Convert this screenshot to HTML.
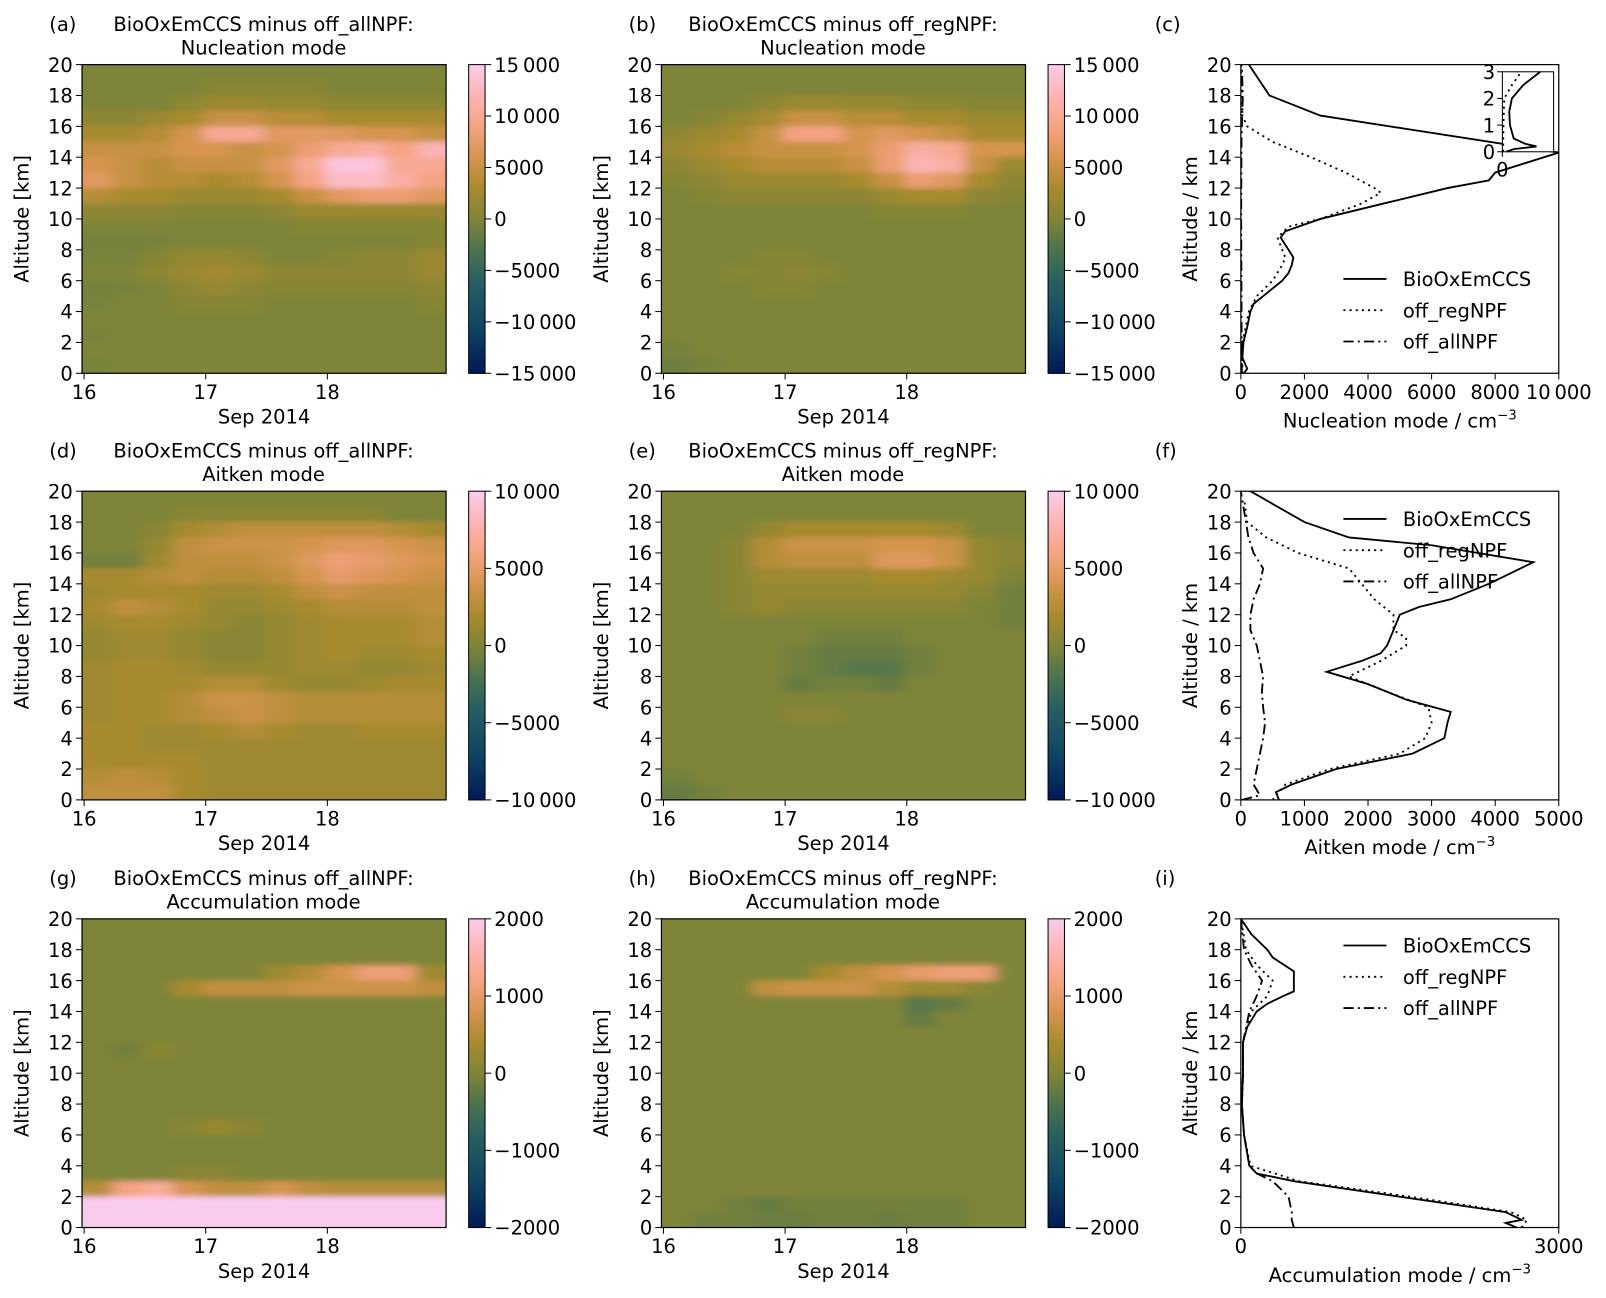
<!DOCTYPE html>
<html><head><meta charset="utf-8">
<style>
html,body{margin:0;padding:0;background:#fff;}
svg{display:block;font-family:"DejaVu Sans","Liberation Sans",sans-serif;}
</style></head>
<body>
<svg id="fig" width="1606" height="1298" viewBox="0 0 1606 1298" xmlns="http://www.w3.org/2000/svg">
<defs>
<filter id="blur" x="0" y="0" width="1" height="1"><feGaussianBlur stdDeviation="7 2.5" edgeMode="duplicate"/></filter>
</defs>
<g id="root" transform="scale(1.0255)"></g>
</svg>
<script>
// ---------- DATA ----------
// heatmap rows: top (19-20 km) to bottom (0-1 km); 12 time columns of 0.25 day from 16.0
const nucA=[[0,0,0,0,0,0,0,0,0,0,0,0],[0,0,0,0,0.5,0.5,0.5,0.5,0,0,0,0],[0,0,0,1,2,2,1.5,1.5,1,1,1,1],[1,1,2,3,5,5,4,4,3,3,3,3],[3,3,4,6,10,10,7,7,7,6,6,5],[5,5,5,6,6,5,6,8,10,11,9,12],[6,5,4,5,5,5,7,10,14,14,10,10],[7,5,4,4,3,4,6,9,13,13,11,9],[4,3,3,2,2,2,3,5,7,8,8,7],[1,1,1,0.5,0.5,0.5,1,2,2,2,2,2],[0,0,0,0,0,0,0,0.5,0.5,0.5,0.5,0.5],[-0.5,-0.5,-0.3,0,0,0,0,0,0,0,0,0.5],[-0.3,-0.3,0.5,1.5,1.5,1,0,0,0.5,1,1,2],[0,0,1,2,2.5,2,1,1,1,1,1,2],[-0.5,-0.3,0,1,1.5,1,0.5,0.5,0.5,0.5,0.5,1],[-0.3,0,0,0.5,0.5,0.5,0,0,0,0,0,0.5],[0,0,0,0,0,0,0,0,0,0,0,0],[-0.3,0,0,0,0,0,0,0,0,0,0,0],[0,0,0,0,0,0,0,0,0,0,0,0],[-0.3,0,0,0,0,0,0,0,0,0,0,0]];
const nucB=[[0,0,0,0,0,0,0,0,0,0,0,0],[0,0,0,0,0,0,0,0,0,0,0,0],[0,0,0,1,2,2,1.5,1.5,1,1,0.5,0.5],[0,0.5,1.5,3,5,5,4,4,3,3,2,2],[1,2,3,5,9,9,6,7,6,5,3,3],[2,3,4,5,5,5,6,8,11,10,6,6],[1,2,3,4,4,4,5,8,12,11,5,2],[0.5,1,2,2,2,2,3,5,8,7,3,1],[0,0.5,1,1,1,1,1,2,3,3,1,0.5],[0,0,0,0,0,0,0,0.5,0.5,0.5,0,0],[0,0,0,0,0,0,0,0,0,0,0,0],[0,0,0,0,0,0,0,0,0,0,0,0],[0,0,0,0.5,0.5,0,0,0,0,0,0,0],[0,0,0.5,0.5,1,0.5,0,0,0,0,0,0],[0,0,0,0.5,0.5,0,0,0,0,0,0,0],[0,0,0,0,0,0,0,0,0,0,0,0],[0,0,0,0,0,0,0,0,0,0,0,0],[0,0,0,0,0,0,0,0,0,0,0,0],[-0.5,0,0,0,0,0,0,0,0,0,0,0],[-1,-0.5,0,0,0,0,0,0,0,0,0,0]];
const aitA=[[0,0,0,0,0,0,0,0,0,0,0,0],[0,0,0,0.5,0.5,0.5,0.5,0.5,0.5,0.5,0,0],[0,0,0.5,2,2.5,3,3,3,3,3,2.5,2],[0,0,1,3,3.5,3.5,3.5,4,4.5,4.5,4,3.5],[-0.5,-0.5,1.5,3,3,3,3.5,4.5,5.5,5,4.5,4],[2,2,2.5,3,2.5,2.5,3,4,5,4.5,4,3.5],[1.5,2,2,2,1.5,1.5,2,3,3.5,3,3,3],[2,3,2.5,2,1,1,1.5,2,2.5,2.5,2.5,3],[1.5,2,2,1.5,1,0.5,1,1.5,2,2,2,2.5],[1,1.5,1.5,1,0.5,0.5,1,1.5,2,2,2,2.5],[1,1.5,1.5,1,0.5,0.5,1,1.5,2,1.5,1.5,2],[1.5,2,2,1.5,1,1,1,1.5,1.5,1,1,1.5],[1.5,2,2,2,2.5,2.5,1.5,1,1,1.5,2,2],[1.5,2,2,2.5,3.5,3.5,3,2.5,2.5,2.5,2.5,2.5],[1.5,2,2,2.5,3,3.5,3,2.5,2.5,2.5,2.5,2.5],[2,2,1.5,1.5,2,2.5,2,1.5,1.5,2,2,2],[2,2,1.5,1.5,1.5,1.5,1.5,1.5,1.5,1.5,1.5,1.5],[2,2,2,2,1.5,1.5,1.5,1.5,1.5,1.5,1.5,1.5],[2.5,3,2.5,2,1.5,1.5,1.5,1.5,1.5,1.5,1.5,1.5],[3,3,3,2,1.5,1.5,1.5,1.5,1.5,1.5,1.5,1.5]];
const aitB=[[0,0,0,0,0,0,0,0,0,0,0,0],[0,0,0,0,0,0,0,0,0,0,0,0],[0,0,0,1,2,2,2,2,2,1.5,0,0],[0,0,0.5,2.5,3.5,3.5,3.5,4,4,3.5,1,0.5],[0,0,0.5,2.5,3,3,3,4.5,4.5,3.5,1,0.5],[0,0,0.5,1.5,1.5,1.5,1.5,2,2,1.5,1,0],[0,0,0.5,1,1,1,1,1,1,1,0.5,-0.5],[0,0,0.5,1,0.5,0.5,0.5,0.5,0.5,0.5,0,-0.5],[0,0,0,0,0,0,0,0,0,0,0,-0.5],[0,0,0,0,0,-0.5,-0.5,-0.5,0,0,0,0],[0,0,0,0,-0.5,-1,-1,-1,-0.5,0,0,0],[0,0,0,0,-0.5,-1,-1.5,-1.5,-0.5,0,0,0],[0,0,0,0,-1,-0.5,-0.5,-1,0,0,0,0],[0,0,0,0,0,0,0,0,0,0,0,0],[0,0,0,0,0.5,0.5,0,0,0,0,0,0],[0,0,0,0,0,0,0,0,0,0,0,0],[0,0,0,0,0,0,0,0,0,0,0,0],[0,0,0,0,0,0,0,0,0,0,0,0],[-0.5,0,0,0,0,0,0,0,0,0,0,0],[-1,-0.5,0,0,0,0,0,0,0,0,0,0]];
const accA=[[0,0,0,0,0,0,0,0,0,0,0,0],[0,0,0,0,0,0,0,0,0,0,0,0],[0,0,0,0,0,0,0,0,0,0,0,0],[0,0,0,0,0,0,0.3,0.5,0.8,1.1,1.1,0.3],[0,0,0,0.4,0.6,0.6,0.6,0.7,0.7,0.7,0.7,0.6],[0,0,0,0,0,0,0,0,0,0,0,0],[0,0,0,0,0,0,0,0,0,0,0,0],[0,0,0,0,0,0,0,0,0,0,0,0],[0,-0.1,0.1,0,0,0,0,0,0,0,0,0],[0,0,0,0,0,0,0,0,0,0,0,0],[0,0,0,0,0,0,0,0,0,0,0,0],[0,0,0,0,0,0,0,0,0,0,0,0],[0,0,0,0,0,0,0,0,0,0,0,0],[0,0,0,0.1,0.2,0.1,0,0,0,0,0,0],[0,0,0,0,0,0,0,0,0,0,0,0],[0,0,0,0,0,0,0,0,0,0,0,0],[0,0,0,0.1,0.1,0,0,0,0,0,0,0],[0.5,1.2,1.4,0.8,0.6,0.6,0.8,0.6,0.5,0.5,0.5,0.5],[2.5,3,3,2.2,2.5,2.8,2.6,2.4,2.4,2.5,2.6,2.6],[3,3,3,2.5,2.8,2.8,2.8,2.8,2.8,2.8,2.8,2.8]];
const accB=[[0,0,0,0,0,0,0,0,0,0,0,0],[0,0,0,0,0,0,0,0,0,0,0,0],[0,0,0,0,0,0,0,0,0,0,0,0],[0,0,0,0,0,0.4,0.6,0.8,1,1.1,1.1,0],[0,0,0,0.6,0.7,0.7,0.7,0.5,0.3,0.3,0.1,0],[0,0,0,0,0,0,0,0,-0.3,-0.2,0,0],[0,0,0,0,0,0,0,0,-0.2,0,0,0],[0,0,0,0,0,0,0,0,0,0,0,0],[0,0,0,0,0,0,0,0,0,0,0,0],[0,0,0,0,0,0,0,0,0,0,0,0],[0,0,0,0,0,0,0,0,0,0,0,0],[0,0,0,0,0,0,0,0,0,0,0,0],[0,0,0,0,0,0,0,0,0,0,0,0],[0,0,0,0,0,0,0,0,0,0,0,0],[0,0,0,0,0,0,0,0,0,0,0,0],[0,0,0,0,0,0,0,0,0,0,0,0],[0,0,0,0,0,0,0,0,0,0,0,0],[0,0,0,0,0,0,0,0,0,0,0,0],[0,0,-0.1,-0.2,-0.1,-0.1,-0.1,-0.1,-0.1,-0.1,0,0],[0,-0.1,-0.1,-0.15,-0.15,-0.1,-0.1,-0.15,-0.1,-0.1,0,0]];
const timeTicks=[16,17,18];
const nucCbTicks=[-15000,-10000,-5000,0,5000,10000,15000];
const aitCbTicks=[-10000,-5000,0,5000,10000];
const accCbTicks=[-2000,-1000,0,1000,2000];
// profiles: altitude (km) and concentration (cm^-3)
const nucBioAlt=[0,0.3,1,2,3,4,4.5,5,6,6.5,7,7.5,8,8.8,9.2,10,11,12,12.5,13,14.3,16.7,18,20];
const nucBioVal=[100,200,50,80,200,300,400,700,1300,1500,1600,1650,1500,1250,1400,2500,4500,6500,7800,8000,10000,2500,900,250];
const nucRegAlt=[0,2,3,4,5,6,7,7.5,8,8.8,9.5,10,11,11.7,12,13,14,15,16,16.7,18,20];
const nucRegVal=[50,50,150,250,500,1000,1300,1400,1300,1150,1500,2500,3800,4400,4200,3300,2200,1000,200,50,50,0];
const nucAllAlt=[0,5,10,15,18,20];
const nucAllVal=[30,20,10,20,60,30];
const aitBioAlt=[0,0.5,1,2,3,4,5,5.7,6.5,7.5,8.3,9,9.5,10,11,12,12.5,13,14,15.4,16.5,17,18,20];
const aitBioVal=[600,550,800,1500,2700,3200,3250,3300,2600,2000,1350,1900,2200,2300,2400,2500,2800,3300,3900,4600,3000,1700,1000,150];
const aitRegAlt=[0,1,2,3,4,5,6,7,8,9,10,10.5,11,12,13,14,15,16,17,18,19.5];
const aitRegVal=[500,700,1400,2500,2900,3000,2950,2300,1700,2200,2600,2600,2400,2400,2100,1900,1700,900,400,100,50];
const aitAllAlt=[0,0.3,1,2,3,4,5,6,7,8,9,10,11,12,13,14,15,16,17,18,20];
const aitAllVal=[20,300,200,250,300,350,380,350,330,350,300,250,150,150,200,300,350,200,120,80,0];
const accBioAlt=[0,0.3,0.5,1,2,3,3.5,4,6,8,10,12,13,14,14.5,15,15.3,16.6,17.5,18,19,20];
const accBioVal=[2600,2500,2650,2500,1500,500,150,80,30,10,20,20,60,150,250,400,500,500,300,250,100,0];
const accRegAlt=[0,0.5,1,2,3,4,6,8,10,12,14,15,16,17,18,20];
const accRegVal=[2650,2700,2550,1600,550,90,30,10,20,20,100,250,300,150,50,0];
const accAllAlt=[0,0.5,1,2,3,3.5,4,6,8,10,12,14,15,16,17,18,20];
const accAllVal=[500,480,480,450,300,150,80,30,10,20,20,80,150,200,100,30,0];
const insetAlt=[0,0.1,0.2,0.3,0.5,1,1.5,2,2.5,3];
const insetVal=[10,30,90,60,30,20,18,25,55,100];
const insetRegAlt=[0,1,2,2.5,3];
const insetRegVal=[2,3,5,25,50];

// ---------- HELPERS ----------
const svg=document.getElementById('root');
const defs=document.querySelector('defs');
const NS='http://www.w3.org/2000/svg';
function mk(tag,attrs,parent){const e=document.createElementNS(NS,tag);for(const k in attrs)e.setAttribute(k,attrs[k]);(parent||svg).appendChild(e);return e;}
function txt(s,x,y,opt,parent){const e=mk('text',Object.assign({x:x,y:y,'font-size':19,fill:'#000'},opt||{}),parent);e.textContent=s;return e;}
const stops=[[0,[1,25,89]],[0.15,[16,69,99]],[0.3,[40,96,98]],[0.4,[76,115,78]],[0.5,[127,133,56]],[0.6,[168,138,46]],[0.7,[214,148,80]],[0.8,[245,163,130]],[0.9,[252,180,180]],[1,[250,204,236]]];
function cmap(t){t=Math.max(0,Math.min(1,t));for(let i=1;i<stops.length;i++){if(t<=stops[i][0]){const a=stops[i-1],b=stops[i];const f=(t-a[0])/(b[0]-a[0]);const c=a[1].map((v,j)=>Math.round(v+(b[1][j]-v)*f));return 'rgb('+c.join(',')+')';}}return 'rgb(250,204,236)';}
function fmt(v){const s=Math.abs(v)>=10000?String(Math.abs(v)).replace(/(\d+)(\d{3})$/,'$1\u2009$2'):String(Math.abs(v));return (v<0?'\u2212':'')+s;}

function heatmap(id,L,top,data,scale,vmax,cbTicks,label,mode){
  const R=L+355,B=top+301;
  const g=mk('g',{},svg);
  
  
  const x=t=>L+2+(t-16)*118.6, y=a=>B-(a/20)*(B-top);
  const cp=mk('clipPath',{id:'cp'+id},defs);mk('rect',{x:L,y:top,width:R-L,height:B-top},cp);
  const cg=mk('g',{'clip-path':'url(#cp'+id+')'},g);
  const ig=mk('g',{filter:'url(#blur)'},cg);
  mk('rect',{x:L-20,y:top-20,width:R-L+40,height:B-top+40,fill:cmap(0.5)},ig);
  data.forEach((row,ri)=>{const a0=19-ri;row.forEach((v,ci)=>{const t0=15.98+ci*0.25;
    const r=mk('rect',{x:x(t0)-(ci==0?20:0),y:y(a0+1)-(ri==0?20:0),width:x(t0+0.25)-x(t0)+(ci==0||ci==11?20:0)+0.6,height:y(a0)-y(a0+1)+(ri==0||ri==19?20:0)+0.6,fill:cmap(0.5+v*scale/(2*vmax))},ig);
    
    });});
  mk('rect',{x:L,y:top,width:R-L,height:B-top,fill:'none',stroke:'#000','stroke-width':1.2},g);
  for(let a=0;a<=20;a+=2){mk('line',{x1:L-6,x2:L,y1:y(a),y2:y(a),stroke:'#000'},g);txt(String(a),L-9,y(a)+7,{'text-anchor':'end'},g);}
  timeTicks.forEach(t=>{mk('line',{x1:x(t),x2:x(t),y1:B,y2:B+6,stroke:'#000'},g);txt(String(t),x(t),B+25,{'text-anchor':'middle'},g);});
  const xl=txt('Sep 2014',(L+R)/2,B+49,{'text-anchor':'middle'},g);
  
  const yl=txt('Altitude [km]',0,0,{'text-anchor':'middle',transform:'translate('+(L-52)+','+((top+B)/2)+') rotate(-90)'},g);
  
  txt('('+id+')',L-32,top-33,{},g);
  txt(mode==='all'?'BioOxEmCCS minus off_allNPF:':'BioOxEmCCS minus off_regNPF:',L+177,top-33,{'text-anchor':'middle'},g);
  txt(label,L+177,top-10,{'text-anchor':'middle'},g);
  const cx=R+22,cw=16;const cb=mk('g',{},svg);
  
  for(let i=0;i<150;i++){mk('rect',{x:cx,y:B-(i+1)*(B-top)/150,width:cw,height:(B-top)/150+0.5,fill:cmap((i+0.5)/150)},cb);}
  mk('rect',{x:cx,y:top,width:cw,height:B-top,fill:'none',stroke:'#000'},cb);
  cbTicks.forEach(v=>{const yy=B-(v+vmax)/(2*vmax)*(B-top);mk('line',{x1:cx+cw,x2:cx+cw+6,y1:yy,y2:yy,stroke:'#000'},cb);txt(fmt(v),cx+cw+9,yy+7,{},cb);});
}

function profile(id,top,xmax,xticks,xlabel,series,legendY){
  const L=1210,R=1520,B=top+301;
  const g=mk('g',{},svg);
  
  const x=v=>L+v/xmax*(R-L),y=a=>B-a/20*(B-top);
  const cp=mk('clipPath',{id:'pc'+id},defs);mk('rect',{x:L,y:top,width:R-L+2,height:B-top},cp);
  const dashes={bio:'',reg:'2,4',all:'10,4,2,4'};
  series.forEach(s=>{const d=s.alt.map((a,i)=>(i?'L':'M')+x(s.val[i]).toFixed(1)+','+y(a).toFixed(1)).join('');
    const p=mk('path',{d:d,fill:'none',stroke:'#000','stroke-width':1.8,'stroke-dasharray':dashes[s.k],'clip-path':'url(#pc'+id+')'},g);
    });
  mk('rect',{x:L,y:top,width:R-L,height:B-top,fill:'none',stroke:'#000','stroke-width':1.2},g);
  for(let a=0;a<=20;a+=2){mk('line',{x1:L-6,x2:L,y1:y(a),y2:y(a),stroke:'#000'},g);txt(String(a),L-9,y(a)+7,{'text-anchor':'end'},g);}
  xticks.forEach(v=>{mk('line',{x1:x(v),x2:x(v),y1:B,y2:B+6,stroke:'#000'},g);txt(fmt(v),x(v),B+25,{'text-anchor':'middle'},g);});
  const xl=mk('text',{x:(L+R)/2,y:B+53,'font-size':19,'text-anchor':'middle'},g);xl.innerHTML=xlabel+' / cm<tspan dy="-8" font-size="13">\u22123</tspan>';
  
  const yl=txt('Altitude / km',0,0,{'text-anchor':'middle',transform:'translate('+(L-43)+','+((top+B)/2)+') rotate(-90)'},g);
  
  txt('('+id+')',L-84,top-33,{},g);
  const lg=mk('g',{},g);
  [['bio','BioOxEmCCS'],['reg','off_regNPF'],['all','off_allNPF']].forEach((e,i)=>{const yy=legendY+i*30.5;
    mk('line',{x1:1310,x2:1352,y1:yy,y2:yy,stroke:'#000','stroke-width':1.8,'stroke-dasharray':dashes[e[0]]},lg);txt(e[1],1368,yy+7,{},lg);});
}

heatmap('a',80,63,nucA,1000,15000,nucCbTicks,'Nucleation mode','all');
heatmap('b',645,63,nucB,1000,15000,nucCbTicks,'Nucleation mode','reg');
heatmap('d',80,479,aitA,1000,10000,aitCbTicks,'Aitken mode','all');
heatmap('e',645,479,aitB,1000,10000,aitCbTicks,'Aitken mode','reg');
heatmap('g',80,896,accA,1000,2000,accCbTicks,'Accumulation mode','all');
heatmap('h',645,896,accB,1000,2000,accCbTicks,'Accumulation mode','reg');

profile('c',63,10000,[0,2000,4000,6000,8000,10000],'Nucleation mode',[{k:'bio',alt:nucBioAlt,val:nucBioVal},{k:'reg',alt:nucRegAlt,val:nucRegVal},{k:'all',alt:nucAllAlt,val:nucAllVal}],272);
profile('f',479,5000,[0,1000,2000,3000,4000,5000],'Aitken mode',[{k:'bio',alt:aitBioAlt,val:aitBioVal},{k:'reg',alt:aitRegAlt,val:aitRegVal},{k:'all',alt:aitAllAlt,val:aitAllVal}],506);
profile('i',896,3000,[0,3000],'Accumulation mode',[{k:'bio',alt:accBioAlt,val:accBioVal},{k:'reg',alt:accRegAlt,val:accRegVal},{k:'all',alt:accAllAlt,val:accAllVal}],922);

(function(){const L=1465,R=1515,T=70,B=148;const g=mk('g',{},svg);
 
 mk('rect',{x:L,y:T,width:R-L,height:B-T,fill:'#fff',stroke:'#000'},g);
 const ix=v=>L+v/100*(R-L-13),iy=a=>B-a/3*(B-T);
 mk('path',{d:insetAlt.map((a,i)=>(i?'L':'M')+ix(insetVal[i]).toFixed(1)+','+iy(a).toFixed(1)).join(''),fill:'none',stroke:'#000','stroke-width':1.8},g);
 mk('path',{d:insetRegAlt.map((a,i)=>(i?'L':'M')+ix(insetRegVal[i]).toFixed(1)+','+iy(a).toFixed(1)).join(''),fill:'none',stroke:'#000','stroke-width':1.8,'stroke-dasharray':'2,4'},g);
 [0,1,2,3].forEach(a=>{mk('line',{x1:L-5,x2:L,y1:iy(a),y2:iy(a),stroke:'#000'},g);txt(String(a),L-7,iy(a)+7,{'text-anchor':'end'},g);});
 mk('line',{x1:L,x2:L,y1:B,y2:B+5,stroke:'#000'},g);txt('0',L,B+24,{'text-anchor':'middle'},g);
})();
</script>
</body></html>
